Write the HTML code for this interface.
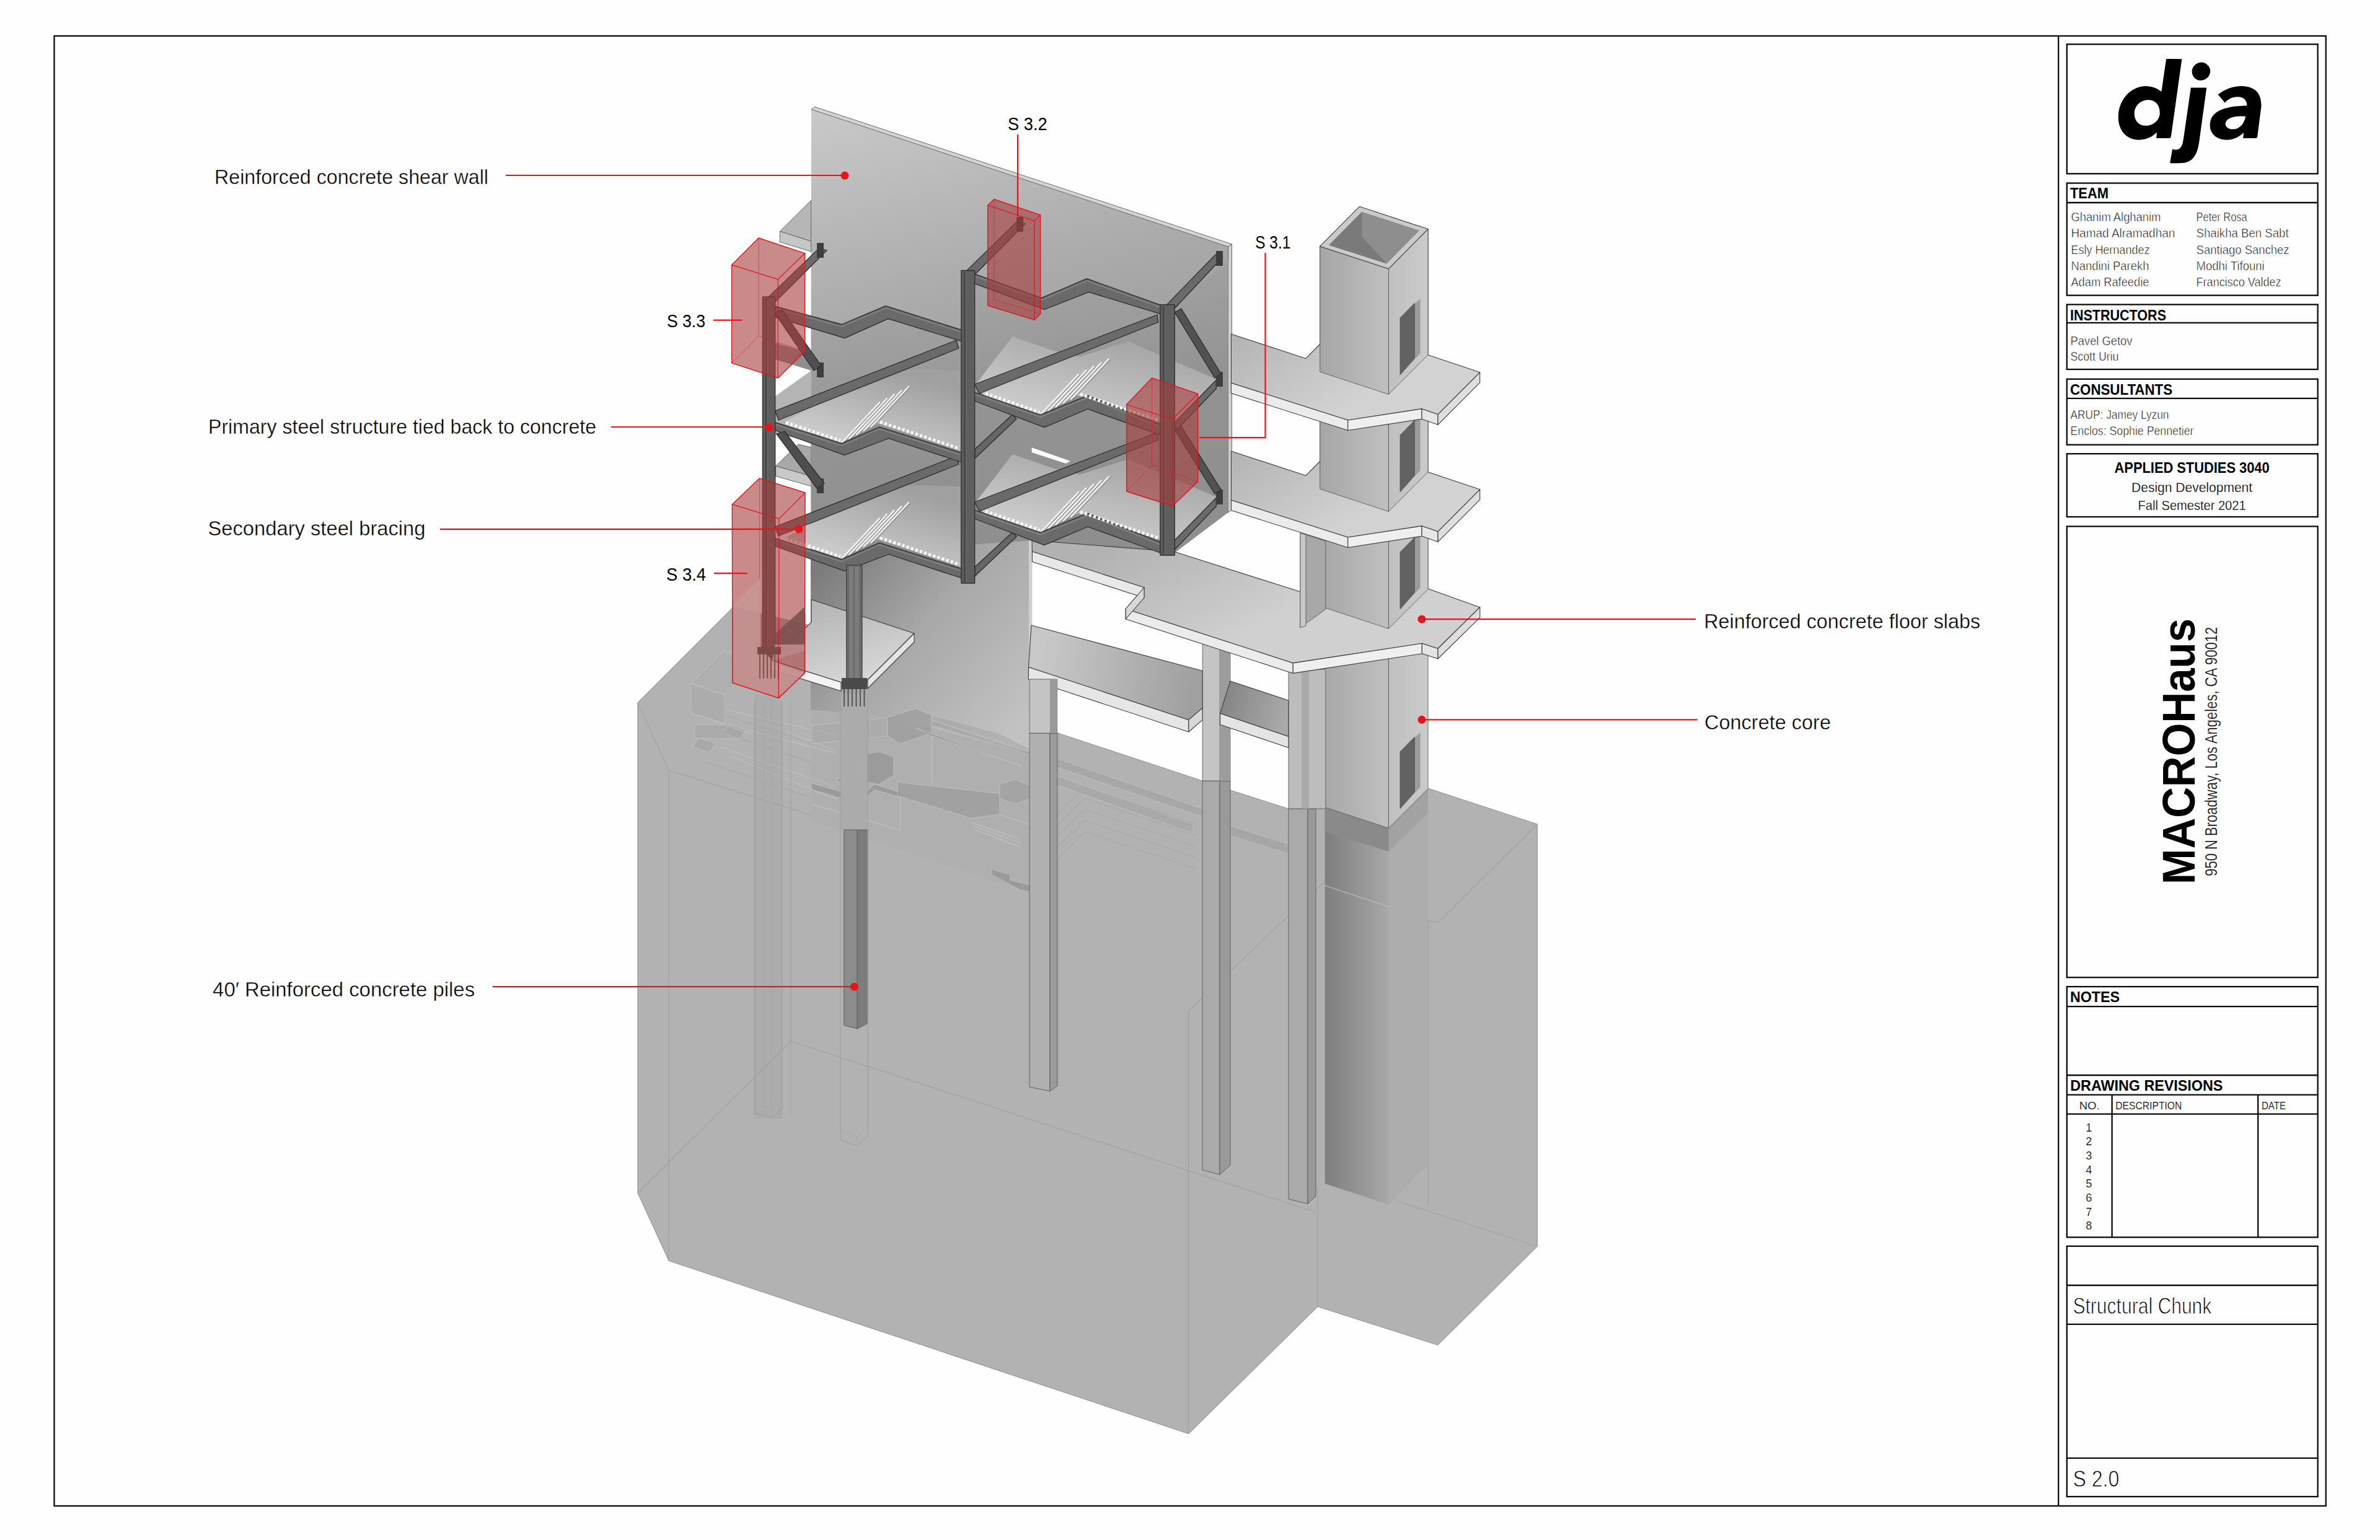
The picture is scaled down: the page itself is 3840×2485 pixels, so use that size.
<!DOCTYPE html>
<html><head><meta charset="utf-8"><style>
html,body{margin:0;padding:0;background:#fff;}
body{width:3840px;height:2485px;overflow:hidden;}
svg{display:block;}
text{font-family:"Liberation Sans",sans-serif;}
</style></head><body>
<svg width="3840" height="2485" viewBox="0 0 3840 2485">
<rect width="3840" height="2485" fill="#fefefe"/>
<defs>
<linearGradient id="gWall" gradientUnits="userSpaceOnUse" x1="1309" y1="176" x2="1500" y2="900">
 <stop offset="0" stop-color="#c9c9c9"/><stop offset="0.45" stop-color="#ababab"/><stop offset="1" stop-color="#8e8e8e"/>
</linearGradient>
<linearGradient id="gWallLow" gradientUnits="userSpaceOnUse" x1="1330" y1="910" x2="1640" y2="1180">
 <stop offset="0" stop-color="#7c7c7c"/><stop offset="0.45" stop-color="#a8a8a8"/><stop offset="1" stop-color="#c2c2c2"/>
</linearGradient>
<linearGradient id="gSlabTop" gradientUnits="userSpaceOnUse" x1="2000" y1="540" x2="2100" y2="700">
 <stop offset="0" stop-color="#b4b4b4"/><stop offset="1" stop-color="#d2d2d2"/>
</linearGradient>
<linearGradient id="gSlabTop2" gradientUnits="userSpaceOnUse" x1="2000" y1="729" x2="2100" y2="889">
 <stop offset="0" stop-color="#b4b4b4"/><stop offset="1" stop-color="#d2d2d2"/>
</linearGradient>
<linearGradient id="gSlabTop3" gradientUnits="userSpaceOnUse" x1="1800" y1="880" x2="1900" y2="1080">
 <stop offset="0" stop-color="#b2b2b2"/><stop offset="1" stop-color="#d0d0d0"/>
</linearGradient>
<linearGradient id="gSlab4" gradientUnits="userSpaceOnUse" x1="1680" y1="1050" x2="1930" y2="1080">
 <stop offset="0" stop-color="#c8c8c8"/><stop offset="1" stop-color="#a0a0a0"/>
</linearGradient>
<linearGradient id="gCoreL" x1="0" y1="0" x2="1" y2="0">
 <stop offset="0" stop-color="#a6a6a6"/><stop offset="1" stop-color="#c0c0c0"/>
</linearGradient>
<linearGradient id="gCoreR" x1="0" y1="0" x2="1" y2="0">
 <stop offset="0" stop-color="#c0c0c0"/><stop offset="1" stop-color="#cacaca"/>
</linearGradient>
<linearGradient id="gCoreIn" x1="0" y1="0" x2="1" y2="0">
 <stop offset="0" stop-color="#7e7e7e"/><stop offset="1" stop-color="#a8a8a8"/>
</linearGradient>
<linearGradient id="gSlabS34" gradientUnits="userSpaceOnUse" x1="1330" y1="975" x2="1370" y2="1100">
 <stop offset="0" stop-color="#b6b6b6"/><stop offset="1" stop-color="#d6d6d6"/>
</linearGradient>
<linearGradient id="gSlab5" gradientUnits="userSpaceOnUse" x1="1975" y1="1120" x2="2079" y2="1150">
 <stop offset="0" stop-color="#858585"/><stop offset="1" stop-color="#aaaaaa"/>
</linearGradient>
<linearGradient id="gFrameBg" gradientUnits="userSpaceOnUse" x1="1400" y1="450" x2="1500" y2="950">
 <stop offset="0" stop-color="#a8a8a8"/><stop offset="0.5" stop-color="#939393"/><stop offset="1" stop-color="#8e8e8e"/>
</linearGradient>
<linearGradient id="gPlateL" x1="0" y1="1" x2="0.6" y2="0">
 <stop offset="0" stop-color="#dadada"/><stop offset="1" stop-color="#a0a0a0"/>
</linearGradient>
<linearGradient id="gPlateR" x1="0" y1="1" x2="0.6" y2="0">
 <stop offset="0" stop-color="#d8d8d8"/><stop offset="1" stop-color="#a4a4a4"/>
</linearGradient>
</defs>
<polygon points="1029.0,1134.0 1183.0,980.0 1310.0,1010.0 1662.0,1128.0 1705.7,1182.6 1940.2,1260.2 1985.0,1275.2 2079.0,1305.0 2305.0,1272.3 2480.3,1330.0 2480.3,2011.0 2319.7,2170.3 2126.0,2108.4 1917.6,2313.4 1079.3,2034.5 1029.0,1925.0" fill="#b2b2b2" stroke="#9c9c9c" stroke-width="1.3"/>
<line x1="1079.3" y1="1243" x2="1079.3" y2="2034.5" stroke="#a2a2a2" stroke-width="1.3" />
<line x1="1029" y1="1925" x2="1275.6" y2="1680.2" stroke="#a2a2a2" stroke-width="1.3" />
<line x1="1275.6" y1="1287" x2="1275.6" y2="1680.2" stroke="#a2a2a2" stroke-width="1.3" />
<line x1="1275.6" y1="1680.2" x2="2126" y2="1957" stroke="#a2a2a2" stroke-width="1.3" />
<line x1="1917.6" y1="1631" x2="1917.6" y2="2313.4" stroke="#a2a2a2" stroke-width="1.3" />
<line x1="2126" y1="1917" x2="2126" y2="2108.4" stroke="#a2a2a2" stroke-width="1.3" />
<line x1="2250" y1="1937" x2="2480.3" y2="2011" stroke="#a2a2a2" stroke-width="1.3" />
<line x1="1029" y1="1134" x2="1079.3" y2="1243" stroke="#a2a2a2" stroke-width="1.3" />
<line x1="1079.3" y1="1243" x2="1308" y2="1315" stroke="#a2a2a2" stroke-width="1.3" />
<line x1="1917.6" y1="1631" x2="2140" y2="1420" stroke="#a2a2a2" stroke-width="1.3" />
<line x1="2304.4" y1="1485" x2="2304.4" y2="1943" stroke="#a2a2a2" stroke-width="1.3" />
<line x1="2320.8" y1="1488.3" x2="2480.3" y2="1330" stroke="#a2a2a2" stroke-width="1.3" />
<line x1="2304.4" y1="1485.7" x2="2320.8" y2="1488.3" stroke="#a2a2a2" stroke-width="1.3" />
<polygon points="1309.0,176.5 1981.5,398.0 1981.5,827.0 1894.0,893.0 1665.0,872.0 1660.0,1215.0 1308.0,1160.0" fill="url(#gWall)" />
<polygon points="1309.0,176.5 1315.0,172.5 1987.5,394.0 1981.5,398.0" fill="#d4d4d4" stroke="#5a5a5a" stroke-width="0.9" stroke-linejoin="round"/>
<polygon points="1981.5,398.0 1987.5,394.0 1987.5,823.0 1981.5,827.0" fill="#cfcfcf" stroke="#5a5a5a" stroke-width="0.9" stroke-linejoin="round"/>
<polygon points="1308.0,880.0 1552.0,880.0 1665.0,872.0 1665.0,1215.0 1308.0,1160.0" fill="url(#gWallLow)" />
<polygon points="1660.0,872.0 1665.4,872.0 1665.4,1215.0 1660.0,1215.0" fill="#d0d0d0" />
<polygon points="1308.0,1145.0 1431.0,1156.0 1660.0,1215.0 1660.0,1440.0 1308.0,1324.0" fill="#afafaf" />
<polygon points="1114.9,1102.6 1169.5,1121.1 1169.5,1167.8 1114.9,1150.3" fill="#a6a6a6" fill-opacity="0.5" stroke="#c4c4c4" stroke-width="1" stroke-opacity="0.8"/>
<polygon points="1114.9,1102.6 1167.5,1050.0 1220.1,1068.5 1169.5,1121.1" fill="#aaaaaa" fill-opacity="0.35" stroke="#c4c4c4" stroke-width="1" stroke-opacity="0.8"/>
<polygon points="1120.8,1169.8 1177.2,1168.8 1204.5,1177.6 1192.8,1192.2 1120.8,1191.2" fill="#a2a2a2" fill-opacity="0.5" stroke="#c4c4c4" stroke-width="1" stroke-opacity="0.8"/>
<polygon points="1116.9,1204.9 1128.6,1191.2 1155.8,1200.0 1144.1,1214.6" fill="#a0a0a0" fill-opacity="0.55" stroke="#c4c4c4" stroke-width="1" stroke-opacity="0.8"/>
<polygon points="1164.6,1182.5 1177.2,1168.8 1204.5,1177.6 1192.8,1192.2" fill="#a4a4a4" fill-opacity="0.5" stroke="#c4c4c4" stroke-width="1" stroke-opacity="0.8"/>
<line x1="1163.6" y1="1205.8" x2="1348.7" y2="1270.1" stroke="#c0c0c0" stroke-width="1.1" />
<line x1="1181.1" y1="1221.4" x2="1348.7" y2="1289.6" stroke="#c0c0c0" stroke-width="1.1" />
<line x1="1204.5" y1="1177.6" x2="1348.7" y2="1215.6" stroke="#c0c0c0" stroke-width="1.1" />
<line x1="1229.8" y1="1164.9" x2="1348.7" y2="1211.7" stroke="#c0c0c0" stroke-width="1.1" />
<line x1="1114.9" y1="1150.3" x2="1217.2" y2="1186.3" stroke="#c0c0c0" stroke-width="1.1" />
<line x1="1169.5" y1="1144.5" x2="1348.7" y2="1186.3" stroke="#c0c0c0" stroke-width="1.1" />
<rect x="1217" y="1120" width="44.0" height="685.0" fill="#a0a0a0" fill-opacity="0.3"/>
<polygon points="1431.4,1158.0 1477.8,1143.2 1503.2,1153.8 1503.2,1183.3 1452.5,1200.2 1431.4,1187.6" fill="#959595" fill-opacity="0.55" stroke="#c4c4c4" stroke-width="1" stroke-opacity="0.8"/>
<polygon points="1477.8,1174.9 1648.7,1236.1 1503.2,1187.6" fill="#8e8e8e" fill-opacity="0.6" stroke="#c4c4c4" stroke-width="1" stroke-opacity="0.8"/>
<polygon points="1503.2,1162.2 1661.4,1212.9 1661.4,1217.9 1503.2,1170.7" fill="#9a9a9a" fill-opacity="0.5" stroke="#c4c4c4" stroke-width="1" stroke-opacity="0.8"/>
<polygon points="1393.5,1217.1 1418.8,1212.9 1442.0,1221.3 1442.0,1250.8 1418.8,1265.6 1393.5,1261.4" fill="#8e8e8e" fill-opacity="0.6" stroke="#c4c4c4" stroke-width="1" stroke-opacity="0.8"/>
<polygon points="1349.2,1257.2 1376.6,1250.8 1389.2,1267.7 1359.7,1271.9" fill="#9a9a9a" fill-opacity="0.5" stroke="#c4c4c4" stroke-width="1" stroke-opacity="0.8"/>
<polygon points="1309.1,1263.5 1389.2,1286.7 1410.3,1265.6 1452.5,1278.3 1452.5,1286.7 1410.3,1274.1 1389.2,1297.3 1309.1,1274.1" fill="#8c8c8c" fill-opacity="0.6" stroke="#c4c4c4" stroke-width="1" stroke-opacity="0.8"/>
<polygon points="1448.3,1261.4 1477.8,1265.6 1612.9,1280.4 1612.9,1314.1 1566.5,1320.5 1477.8,1293.0 1448.3,1284.6" fill="#959595" fill-opacity="0.55" stroke="#c4c4c4" stroke-width="1" stroke-opacity="0.8"/>
<polygon points="1612.9,1265.6 1638.2,1257.2 1661.4,1267.7 1661.4,1288.8 1638.2,1297.3 1612.9,1288.8" fill="#9a9a9a" fill-opacity="0.5" stroke="#c4c4c4" stroke-width="1" stroke-opacity="0.8"/>
<polygon points="1600.2,1402.7 1629.7,1411.2 1629.7,1419.6 1661.4,1428.1 1671.9,1440.7 1646.6,1436.5 1600.2,1411.2" fill="#8c8c8c" fill-opacity="0.6" stroke="#c4c4c4" stroke-width="1" stroke-opacity="0.8"/>
<polygon points="1309.1,1170.7 1431.4,1158.0 1431.4,1187.6 1309.1,1200.2" fill="#a4a4a4" fill-opacity="0.4" stroke="#c4c4c4" stroke-width="1" stroke-opacity="0.8"/>
<polygon points="1503.2,1153.8 1612.9,1183.3 1661.4,1208.6 1661.4,1212.9 1503.2,1162.2" fill="#a0a0a0" fill-opacity="0.45" stroke="#c4c4c4" stroke-width="1" stroke-opacity="0.8"/>
<line x1="1566.5" y1="1326.8" x2="1646.6" y2="1354.2" stroke="#c2c2c2" stroke-width="1.1" />
<line x1="1570.7" y1="1333.1" x2="1646.6" y2="1360.5" stroke="#c2c2c2" stroke-width="1.1" />
<line x1="1574.9" y1="1339.5" x2="1646.6" y2="1366.9" stroke="#c2c2c2" stroke-width="1.1" />
<line x1="1309.1" y1="1297.3" x2="1452.5" y2="1339.5" stroke="#c2c2c2" stroke-width="1.1" />
<line x1="1389.2" y1="1297.3" x2="1389.2" y2="1326.8" stroke="#c2c2c2" stroke-width="1.1" />
<line x1="1452.5" y1="1286.7" x2="1452.5" y2="1339.5" stroke="#c2c2c2" stroke-width="1.1" />
<line x1="1503.2" y1="1187.6" x2="1503.2" y2="1263.5" stroke="#c2c2c2" stroke-width="1.1" />
<line x1="1612.9" y1="1314.1" x2="1661.4" y2="1331.0" stroke="#c2c2c2" stroke-width="1.1" />
<line x1="1167" y1="1153" x2="1308" y2="1199" stroke="#a6a6a6" stroke-width="1.1" />
<line x1="1160" y1="1180" x2="1308" y2="1230" stroke="#a6a6a6" stroke-width="1.1" />
<line x1="1140" y1="1230" x2="1308" y2="1287" stroke="#a6a6a6" stroke-width="1.1" />
<line x1="1217" y1="1130" x2="1217" y2="1800" stroke="#a6a6a6" stroke-width="1.1" />
<line x1="1233" y1="1130" x2="1233" y2="1800" stroke="#a6a6a6" stroke-width="1.1" />
<line x1="1245" y1="1130" x2="1245" y2="1805" stroke="#a6a6a6" stroke-width="1.1" />
<line x1="1261" y1="1130" x2="1261" y2="1805" stroke="#a6a6a6" stroke-width="1.1" />
<line x1="1276" y1="1130" x2="1276" y2="1800" stroke="#a6a6a6" stroke-width="1.1" />
<polygon points="1666.0,1210.0 1940.0,1305.0 1940.0,1318.0 1666.0,1225.0" fill="#9a9a9a" fill-opacity="0.45" stroke="#c4c4c4" stroke-width="1" stroke-opacity="0.8"/>
<polygon points="1700.0,1250.0 1925.0,1330.0 1925.0,1345.0 1700.0,1265.0" fill="#9a9a9a" fill-opacity="0.4" stroke="#c4c4c4" stroke-width="1" stroke-opacity="0.8"/>
<polygon points="1945.0,1320.0 2079.0,1362.0 2079.0,1378.0 1945.0,1336.0" fill="#969696" fill-opacity="0.45" stroke="#c4c4c4" stroke-width="1" stroke-opacity="0.8"/>
<line x1="1690" y1="1330" x2="1750" y2="1270" stroke="#a8a8a8" stroke-width="1.1" />
<line x1="1750" y1="1270" x2="1930" y2="1330" stroke="#a8a8a8" stroke-width="1.1" />
<line x1="1690" y1="1348" x2="1750" y2="1288" stroke="#a8a8a8" stroke-width="1.1" />
<line x1="1750" y1="1288" x2="1930" y2="1348" stroke="#a8a8a8" stroke-width="1.1" />
<line x1="1690" y1="1366" x2="1750" y2="1306" stroke="#a8a8a8" stroke-width="1.1" />
<line x1="1750" y1="1306" x2="1930" y2="1366" stroke="#a8a8a8" stroke-width="1.1" />
<line x1="1690" y1="1384" x2="1750" y2="1324" stroke="#a8a8a8" stroke-width="1.1" />
<line x1="1750" y1="1324" x2="1930" y2="1384" stroke="#a8a8a8" stroke-width="1.1" />
<line x1="1690" y1="1402" x2="1750" y2="1342" stroke="#a8a8a8" stroke-width="1.1" />
<line x1="1750" y1="1342" x2="1930" y2="1402" stroke="#a8a8a8" stroke-width="1.1" />
<polygon points="2137.7,1303.0 2240.6,1335.5 2240.6,1943.7 2137.7,1910.0" fill="url(#gCoreIn)" />
<polygon points="2240.6,1335.5 2304.0,1272.0 2304.0,1880.0 2240.6,1943.7" fill="#adadad" />
<polygon points="2137.7,1303.0 2240.6,1335.5 2240.6,1374.0 2137.7,1341.6" fill="#8a8a8a" />
<polygon points="2240.6,1335.5 2304.0,1272.7 2304.0,1312.0 2240.6,1374.0" fill="#a2a2a2" />
<line x1="2137.7" y1="1429" x2="2240.6" y2="1463" stroke="#c0c0c0" stroke-width="1.2" />
<polygon points="2079.0,1305.0 2110.0,1305.0 2110.0,1942.4 2079.0,1935.0" fill="#aaaaaa" stroke="#5a5a5a" stroke-width="0.9" stroke-linejoin="round"/>
<polygon points="2110.0,1305.0 2123.0,1305.0 2123.0,1930.0 2110.0,1942.4" fill="#999999" stroke="#5a5a5a" stroke-width="0.9" stroke-linejoin="round"/>
<polygon points="1940.0,1260.0 1968.0,1260.0 1968.0,1895.3 1940.0,1888.0" fill="#aaaaaa" stroke="#5a5a5a" stroke-width="0.9" stroke-linejoin="round"/>
<polygon points="1968.0,1260.0 1985.0,1260.0 1985.0,1880.0 1968.0,1895.3" fill="#9a9a9a" stroke="#5a5a5a" stroke-width="0.9" stroke-linejoin="round"/>
<polygon points="1661.0,1183.0 1694.0,1183.0 1694.0,1760.8 1661.0,1754.0" fill="#b0b0b0" stroke="#5a5a5a" stroke-width="0.9" stroke-linejoin="round"/>
<polygon points="1694.0,1183.0 1706.0,1183.0 1706.0,1752.0 1694.0,1760.8" fill="#9a9a9a" stroke="#5a5a5a" stroke-width="0.9" stroke-linejoin="round"/>
<rect x="1356.8" y="1120" width="42.6" height="219.0" fill="#ababab" />
<polygon points="1361.7,1339.0 1383.2,1339.0 1383.2,1660.0 1361.7,1654.6" fill="#8c8c8c" stroke="#5a5a5a" stroke-width="0.9" stroke-linejoin="round"/>
<polygon points="1383.2,1339.0 1400.0,1339.0 1400.0,1651.3 1383.2,1660.0" fill="#7c7c7c" stroke="#5a5a5a" stroke-width="0.9" stroke-linejoin="round"/>
<polyline points="1218.5,1130.0 1218.5,1795.8 1245.4,1803.9 1262.0,1789.0 1262.0,1130.0" fill="none" stroke="#a0a0a0" stroke-width="1.2" stroke-linejoin="miter" />
<polyline points="1356.0,1130.0 1356.0,1839.5 1383.2,1849.6 1400.0,1832.8 1400.0,1130.0" fill="none" stroke="#a0a0a0" stroke-width="1.2" stroke-linejoin="miter" />
<polyline points="1218.5,1781.0 1245.4,1789.0 1262.0,1775.0" fill="none" stroke="#a6a6a6" stroke-width="1.0" stroke-linejoin="miter" />
<polyline points="1245.4,1789.0 1245.4,1803.9" fill="none" stroke="#a6a6a6" stroke-width="1.0" stroke-linejoin="miter" />
<polyline points="1356.0,1825.0 1383.2,1834.0 1400.0,1818.0" fill="none" stroke="#a6a6a6" stroke-width="1.0" stroke-linejoin="miter" />
<polyline points="1383.2,1834.0 1383.2,1849.6" fill="none" stroke="#a6a6a6" stroke-width="1.0" stroke-linejoin="miter" />
<polygon points="2129.7,397.4 2240.4,433.8 2240.4,1336.4 2129.7,1300.0" fill="url(#gCoreL)" stroke="#5a5a5a" stroke-width="0.9" stroke-linejoin="round"/>
<polygon points="2240.4,433.8 2304.0,369.6 2304.0,1272.7 2240.4,1336.4" fill="url(#gCoreR)" stroke="#5a5a5a" stroke-width="0.9" stroke-linejoin="round"/>
<polygon points="2259.0,1213.0 2291.6,1181.8 2291.6,1270.0 2259.0,1305.0" fill="#9c9c9c" />
<polygon points="2259.0,1213.0 2282.5,1189.0 2282.5,1278.0 2259.0,1305.0" fill="#626262" stroke="#5a5a5a" stroke-width="0.9" stroke-linejoin="round"/>
<rect x="2079" y="1080" width="59.8" height="225.0" fill="#bdbdbd" stroke="#5a5a5a" stroke-width="0.9" stroke-linejoin="round"/>
<rect x="2100" y="1080" width="12.0" height="225.0" fill="#aaaaaa" />
<rect x="1940.2" y="1030" width="44.8" height="230.0" fill="#c4c4c4" stroke="#5a5a5a" stroke-width="0.9" stroke-linejoin="round"/>
<rect x="1967" y="1030" width="18.0" height="230.0" fill="#9c9c9c" />
<polygon points="1664.0,1009.0 1940.2,1082.5 1940.2,1142.3 1917.8,1161.7 1659.4,1076.5" fill="url(#gSlab4)" stroke="#3c3c3c" stroke-width="1.1" stroke-linejoin="round"/>
<polygon points="1659.4,1076.5 1917.8,1161.7 1917.8,1181.0 1659.4,1096.0" fill="#e6e6e6" stroke="#3c3c3c" stroke-width="1.1" stroke-linejoin="round"/>
<polygon points="1917.8,1161.7 1940.2,1142.3 1940.2,1161.6 1917.8,1181.0" fill="#d8d8d8" stroke="#3c3c3c" stroke-width="1.1" stroke-linejoin="round"/>
<rect x="1661" y="1096" width="44.7" height="87.0" fill="#c4c4c4" stroke="#5a5a5a" stroke-width="0.9" stroke-linejoin="round"/>
<rect x="1694" y="1096" width="11.7" height="87.0" fill="#9a9a9a" />
<polygon points="1985.0,1099.0 2079.0,1130.3 2079.0,1188.5 1968.6,1151.2" fill="url(#gSlab5)" stroke="#3c3c3c" stroke-width="1.1" stroke-linejoin="round"/>
<polygon points="1968.6,1151.2 2079.0,1188.5 2079.0,1206.5 1968.6,1169.2" fill="#e4e4e4" stroke="#3c3c3c" stroke-width="1.1" stroke-linejoin="round"/>
<polygon points="1665.0,872.0 1894.0,890.0 2100.0,955.6 2304.0,950.0 2387.8,979.9 2320.0,1046.5 2294.3,1038.3 2086.2,1069.9 1816.2,982.5 1846.0,948.0 1665.4,889.9" fill="url(#gSlabTop3)" stroke="#3c3c3c" stroke-width="1.1" stroke-linejoin="round"/>
<polygon points="1665.4,889.9 1846.0,948.0 1846.0,964.5 1665.4,906.4" fill="#e8e8e8" stroke="#3c3c3c" stroke-width="1.1" stroke-linejoin="round"/>
<polygon points="1816.2,982.5 2086.2,1069.9 2086.2,1086.4 1816.2,999.0" fill="#ebebeb" stroke="#3c3c3c" stroke-width="1.1" stroke-linejoin="round"/>
<polygon points="2086.2,1069.9 2294.3,1038.3 2294.3,1054.8 2086.2,1086.4" fill="#efefef" stroke="#3c3c3c" stroke-width="1.1" stroke-linejoin="round"/>
<polygon points="2294.3,1038.3 2320.0,1046.5 2320.0,1063.0 2294.3,1054.8" fill="#e4e4e4" stroke="#3c3c3c" stroke-width="1.1" stroke-linejoin="round"/>
<polygon points="2320.0,1046.5 2387.8,979.9 2387.8,996.4 2320.0,1063.0" fill="#dedede" stroke="#3c3c3c" stroke-width="1.1" stroke-linejoin="round"/>
<polygon points="1846.0,948.0 1816.2,982.5 1816.2,999.0 1846.0,964.5" fill="#d8d8d8" stroke="#3c3c3c" stroke-width="1.1" stroke-linejoin="round"/>
<polygon points="2129.7,397.4 2240.4,433.8 2240.4,1014.4 2129.7,978.0" fill="url(#gCoreL)" stroke="#5a5a5a" stroke-width="0.9" stroke-linejoin="round"/>
<polygon points="2240.4,433.8 2304.0,369.6 2304.0,950.7 2240.4,1014.4" fill="url(#gCoreR)" stroke="#5a5a5a" stroke-width="0.9" stroke-linejoin="round"/>
<polygon points="2097.9,860.0 2138.8,873.0 2138.8,983.4 2097.9,1012.6" fill="#a8a8a8" stroke="#5a5a5a" stroke-width="0.9" stroke-linejoin="round"/>
<polygon points="2097.9,860.0 2107.0,863.0 2107.0,1010.0 2097.9,1012.6" fill="#c8c8c8" stroke="#5a5a5a" stroke-width="0.9" stroke-linejoin="round"/>
<polygon points="2259.0,891.0 2291.6,859.8 2291.6,948.0 2259.0,983.0" fill="#9c9c9c" />
<polygon points="2259.0,891.0 2282.5,867.0 2282.5,956.0 2259.0,983.0" fill="#626262" stroke="#5a5a5a" stroke-width="0.9" stroke-linejoin="round"/>
<polygon points="1986.4,728.0 2107.0,767.4 2129.0,745.0 2304.0,761.7 2387.7,789.8 2320.0,857.8 2294.0,848.7 2174.7,867.0 1986.4,807.0" fill="url(#gSlabTop2)" stroke="#3c3c3c" stroke-width="1.1" stroke-linejoin="round"/>
<polygon points="1986.4,807.0 2174.7,867.0 2174.7,883.5 1986.4,823.5" fill="#ebebeb" stroke="#3c3c3c" stroke-width="1.1" stroke-linejoin="round"/>
<polygon points="2174.7,867.0 2294.0,848.7 2294.0,865.2 2174.7,883.5" fill="#efefef" stroke="#3c3c3c" stroke-width="1.1" stroke-linejoin="round"/>
<polygon points="2294.0,848.7 2320.0,857.8 2320.0,874.3 2294.0,865.2" fill="#e6e6e6" stroke="#3c3c3c" stroke-width="1.1" stroke-linejoin="round"/>
<polygon points="2320.0,857.8 2387.7,789.8 2387.7,806.3 2320.0,874.3" fill="#dedede" stroke="#3c3c3c" stroke-width="1.1" stroke-linejoin="round"/>
<polygon points="2129.7,397.4 2240.4,433.8 2240.4,825.4 2129.7,789.0" fill="url(#gCoreL)" stroke="#5a5a5a" stroke-width="0.9" stroke-linejoin="round"/>
<polygon points="2240.4,433.8 2304.0,369.6 2304.0,761.7 2240.4,825.4" fill="url(#gCoreR)" stroke="#5a5a5a" stroke-width="0.9" stroke-linejoin="round"/>
<polygon points="2259.0,702.0 2291.6,670.8 2291.6,759.0 2259.0,794.0" fill="#9c9c9c" />
<polygon points="2259.0,702.0 2282.5,678.0 2282.5,767.0 2259.0,794.0" fill="#626262" stroke="#5a5a5a" stroke-width="0.9" stroke-linejoin="round"/>
<polygon points="1986.4,539.0 2107.0,578.4 2129.0,556.0 2304.0,572.7 2387.7,600.8 2320.0,668.8 2294.0,659.7 2174.7,678.0 1986.4,618.0" fill="url(#gSlabTop)" stroke="#3c3c3c" stroke-width="1.1" stroke-linejoin="round"/>
<polygon points="1986.4,618.0 2174.7,678.0 2174.7,694.5 1986.4,634.5" fill="#ebebeb" stroke="#3c3c3c" stroke-width="1.1" stroke-linejoin="round"/>
<polygon points="2174.7,678.0 2294.0,659.7 2294.0,676.2 2174.7,694.5" fill="#efefef" stroke="#3c3c3c" stroke-width="1.1" stroke-linejoin="round"/>
<polygon points="2294.0,659.7 2320.0,668.8 2320.0,685.3 2294.0,676.2" fill="#e6e6e6" stroke="#3c3c3c" stroke-width="1.1" stroke-linejoin="round"/>
<polygon points="2320.0,668.8 2387.7,600.8 2387.7,617.3 2320.0,685.3" fill="#dedede" stroke="#3c3c3c" stroke-width="1.1" stroke-linejoin="round"/>
<polygon points="2129.7,397.4 2240.4,433.8 2240.4,636.4 2129.7,600.0" fill="url(#gCoreL)" stroke="#5a5a5a" stroke-width="0.9" stroke-linejoin="round"/>
<polygon points="2240.4,433.8 2304.0,369.6 2304.0,572.7 2240.4,636.4" fill="url(#gCoreR)" stroke="#5a5a5a" stroke-width="0.9" stroke-linejoin="round"/>
<polygon points="2259.0,513.0 2291.6,481.8 2291.6,570.0 2259.0,605.0" fill="#9c9c9c" />
<polygon points="2259.0,513.0 2282.5,489.0 2282.5,578.0 2259.0,605.0" fill="#626262" stroke="#5a5a5a" stroke-width="0.9" stroke-linejoin="round"/>
<polygon points="2129.7,397.4 2193.6,333.2 2304.0,369.6 2240.4,433.8" fill="#cacaca" stroke="#3c3c3c" stroke-width="1.1" stroke-linejoin="round"/>
<polygon points="2144.3,395.6 2197.3,342.0 2289.7,372.0 2237.0,425.2" fill="#707070" />
<polygon points="2197.3,342.0 2289.7,372.0 2237.0,425.2 2197.3,382.0" fill="#8e8e8e" />
<polygon points="2144.3,395.6 2197.3,342.0 2197.3,382.0 2237.0,425.2" fill="#7a7a7a" />
<polygon points="1258.3,373.3 1308.6,323.4 1308.6,389.2" fill="#b6b6b6" stroke="#5a5a5a" stroke-width="0.9" stroke-linejoin="round"/>
<polygon points="1258.3,373.3 1308.6,389.2 1308.6,406.0 1258.3,390.4" fill="#c6c6c6" stroke="#5a5a5a" stroke-width="0.9" stroke-linejoin="round"/>
<polygon points="1251.6,752.0 1288.0,716.9 1309.0,722.0 1309.0,768.3" fill="#a8a8a8" stroke="#5a5a5a" stroke-width="0.9" stroke-linejoin="round"/>
<polygon points="1251.6,752.0 1309.0,768.3 1309.0,784.7 1251.6,768.3" fill="#c8c8c8" stroke="#5a5a5a" stroke-width="0.9" stroke-linejoin="round"/>
<polygon points="1308.8,520.0 1363.0,545.6 1433.0,514.4 1552.0,550.8 1552.0,934.0 1433.9,895.7 1362.6,922.6 1308.8,902.0" fill="url(#gFrameBg)" />
<polygon points="1251.3,553.4 1308.8,570.0 1308.8,598.0 1251.3,580.0" fill="#8e8e8e" />
<polygon points="1250.0,640.0 1308.8,598.0 1308.8,712.0 1250.0,700.0" fill="#b4b4b4" />
<polygon points="1572.0,457.0 1685.0,499.5 1756.6,471.4 1875.0,507.3 1895.0,491.7 1981.5,420.0 1981.5,825.0 1895.0,887.0 1872.0,890.9 1755.0,850.6 1685.0,879.2 1572.0,838.0" fill="url(#gFrameBg)" />
<polygon points="1664.7,722.3 1727.0,744.0 1720.0,748.0 1664.7,730.0" fill="#fdfdfd" />
<polygon points="1266.8,684.2 1357.9,714.5 1416.4,683.0 1549.6,727.4 1549.6,598.0 1496.0,596.3 1418.0,596.3 1268.0,680.0" fill="url(#gPlateL)" />
<polyline points="1357.9,714.5 1419.9,648.5" fill="none" stroke="#f2f2f2" stroke-width="2.4" stroke-linejoin="miter" />
<polyline points="1360.4,715.5 1422.4,649.5" fill="none" stroke="#6a6a6a" stroke-width="0.9" stroke-linejoin="miter" />
<polyline points="1369.6,708.2 1431.6,642.2" fill="none" stroke="#f2f2f2" stroke-width="2.4" stroke-linejoin="miter" />
<polyline points="1372.1,709.2 1434.1,643.2" fill="none" stroke="#6a6a6a" stroke-width="0.9" stroke-linejoin="miter" />
<polyline points="1381.3,701.9 1443.3,635.9" fill="none" stroke="#f2f2f2" stroke-width="2.4" stroke-linejoin="miter" />
<polyline points="1383.8,702.9 1445.8,636.9" fill="none" stroke="#6a6a6a" stroke-width="0.9" stroke-linejoin="miter" />
<polyline points="1393.0,695.6 1455.0,629.6" fill="none" stroke="#f2f2f2" stroke-width="2.4" stroke-linejoin="miter" />
<polyline points="1395.5,696.6 1457.5,630.6" fill="none" stroke="#6a6a6a" stroke-width="0.9" stroke-linejoin="miter" />
<polyline points="1404.7,689.3 1466.7,623.3" fill="none" stroke="#f2f2f2" stroke-width="2.4" stroke-linejoin="miter" />
<polyline points="1407.2,690.3 1469.2,624.3" fill="none" stroke="#6a6a6a" stroke-width="0.9" stroke-linejoin="miter" />
<polygon points="1266.8,871.2 1357.9,901.5 1416.4,870.0 1549.6,914.4 1549.6,785.0 1496.0,783.3 1418.0,783.3 1268.0,867.0" fill="url(#gPlateL)" />
<polyline points="1357.9,901.5 1419.9,835.5" fill="none" stroke="#f2f2f2" stroke-width="2.4" stroke-linejoin="miter" />
<polyline points="1360.4,902.5 1422.4,836.5" fill="none" stroke="#6a6a6a" stroke-width="0.9" stroke-linejoin="miter" />
<polyline points="1369.6,895.2 1431.6,829.2" fill="none" stroke="#f2f2f2" stroke-width="2.4" stroke-linejoin="miter" />
<polyline points="1372.1,896.2 1434.1,830.2" fill="none" stroke="#6a6a6a" stroke-width="0.9" stroke-linejoin="miter" />
<polyline points="1381.3,888.9 1443.3,822.9" fill="none" stroke="#f2f2f2" stroke-width="2.4" stroke-linejoin="miter" />
<polyline points="1383.8,889.9 1445.8,823.9" fill="none" stroke="#6a6a6a" stroke-width="0.9" stroke-linejoin="miter" />
<polyline points="1393.0,882.6 1455.0,816.6" fill="none" stroke="#f2f2f2" stroke-width="2.4" stroke-linejoin="miter" />
<polyline points="1395.5,883.6 1457.5,817.6" fill="none" stroke="#6a6a6a" stroke-width="0.9" stroke-linejoin="miter" />
<polyline points="1404.7,876.3 1466.7,810.3" fill="none" stroke="#f2f2f2" stroke-width="2.4" stroke-linejoin="miter" />
<polyline points="1407.2,877.3 1469.2,811.3" fill="none" stroke="#6a6a6a" stroke-width="0.9" stroke-linejoin="miter" />
<polygon points="1589.9,639.7 1678.7,669.3 1739.5,638.2 1870.3,680.2 1895.3,681.8 1962.3,613.2 1962.3,611.7 1820.5,550.9 1742.6,575.8 1702.0,566.5 1633.5,543.1 1572.7,622.6" fill="url(#gPlateR)" />
<polyline points="1678.7,669.3 1740.7,603.3" fill="none" stroke="#f2f2f2" stroke-width="2.4" stroke-linejoin="miter" />
<polyline points="1681.2,670.3 1743.2,604.3" fill="none" stroke="#6a6a6a" stroke-width="0.9" stroke-linejoin="miter" />
<polyline points="1690.9,663.1 1752.9,597.1" fill="none" stroke="#f2f2f2" stroke-width="2.4" stroke-linejoin="miter" />
<polyline points="1693.4,664.1 1755.4,598.1" fill="none" stroke="#6a6a6a" stroke-width="0.9" stroke-linejoin="miter" />
<polyline points="1703.1,656.9 1765.1,590.9" fill="none" stroke="#f2f2f2" stroke-width="2.4" stroke-linejoin="miter" />
<polyline points="1705.6,657.9 1767.6,591.9" fill="none" stroke="#6a6a6a" stroke-width="0.9" stroke-linejoin="miter" />
<polyline points="1715.3,650.7 1777.3,584.7" fill="none" stroke="#f2f2f2" stroke-width="2.4" stroke-linejoin="miter" />
<polyline points="1717.8,651.7 1779.8,585.7" fill="none" stroke="#6a6a6a" stroke-width="0.9" stroke-linejoin="miter" />
<polyline points="1727.5,644.5 1789.5,578.5" fill="none" stroke="#f2f2f2" stroke-width="2.4" stroke-linejoin="miter" />
<polyline points="1730.0,645.5 1792.0,579.5" fill="none" stroke="#6a6a6a" stroke-width="0.9" stroke-linejoin="miter" />
<polygon points="1589.9,829.7 1678.7,859.3 1739.5,828.2 1870.3,870.2 1895.3,871.8 1962.3,803.2 1962.3,801.7 1820.5,740.9 1742.6,765.8 1702.0,756.5 1633.5,733.1 1572.7,812.6" fill="url(#gPlateR)" />
<polyline points="1678.7,859.3 1740.7,793.3" fill="none" stroke="#f2f2f2" stroke-width="2.4" stroke-linejoin="miter" />
<polyline points="1681.2,860.3 1743.2,794.3" fill="none" stroke="#6a6a6a" stroke-width="0.9" stroke-linejoin="miter" />
<polyline points="1690.9,853.1 1752.9,787.1" fill="none" stroke="#f2f2f2" stroke-width="2.4" stroke-linejoin="miter" />
<polyline points="1693.4,854.1 1755.4,788.1" fill="none" stroke="#6a6a6a" stroke-width="0.9" stroke-linejoin="miter" />
<polyline points="1703.1,846.9 1765.1,780.9" fill="none" stroke="#f2f2f2" stroke-width="2.4" stroke-linejoin="miter" />
<polyline points="1705.6,847.9 1767.6,781.9" fill="none" stroke="#6a6a6a" stroke-width="0.9" stroke-linejoin="miter" />
<polyline points="1715.3,840.7 1777.3,774.7" fill="none" stroke="#f2f2f2" stroke-width="2.4" stroke-linejoin="miter" />
<polyline points="1717.8,841.7 1779.8,775.7" fill="none" stroke="#6a6a6a" stroke-width="0.9" stroke-linejoin="miter" />
<polyline points="1727.5,834.5 1789.5,768.5" fill="none" stroke="#f2f2f2" stroke-width="2.4" stroke-linejoin="miter" />
<polyline points="1730.0,835.5 1792.0,769.5" fill="none" stroke="#6a6a6a" stroke-width="0.9" stroke-linejoin="miter" />
<polygon points="1572.7,725.0 1633.5,669.0 1640.0,676.0 1572.7,740.0" fill="#666666" stroke="#2c2c2c" stroke-width="1.3" stroke-linejoin="round"/>
<polygon points="1572.7,915.0 1633.5,859.0 1640.0,866.0 1572.7,930.0" fill="#666666" stroke="#2c2c2c" stroke-width="1.3" stroke-linejoin="round"/>
<polygon points="1250.7,663.0 1543.0,549.0 1546.8,562.0 1256.0,678.0" fill="#6a6a6a" stroke="#2c2c2c" stroke-width="1.3" stroke-linejoin="round"/>
<polygon points="1250.7,850.0 1543.0,736.0 1546.8,749.0 1256.0,865.0" fill="#6a6a6a" stroke="#2c2c2c" stroke-width="1.3" stroke-linejoin="round"/>
<polygon points="1572.7,620.0 1867.2,508.0 1868.8,520.0 1580.0,635.0" fill="#6a6a6a" stroke="#2c2c2c" stroke-width="1.3" stroke-linejoin="round"/>
<polygon points="1572.7,810.0 1867.2,698.0 1868.8,710.0 1580.0,825.0" fill="#6a6a6a" stroke="#2c2c2c" stroke-width="1.3" stroke-linejoin="round"/>
<polygon points="1250.0,494.0 1358.0,523.5 1429.0,493.6 1552.0,532.6 1552.0,550.8 1433.0,514.4 1363.0,545.6 1250.0,511.8" fill="#6a6a6a" stroke="#2c2c2c" stroke-width="1.3" stroke-linejoin="round"/>
<polyline points="1250.0,497.5 1358.0,527.0 1429.0,497.1 1552.0,536.1" fill="none" stroke="#858585" stroke-width="1.6" stroke-linejoin="miter" />
<polygon points="1248.0,680.6 1357.9,715.7 1418.7,688.8 1552.0,730.9 1552.0,746.0 1433.9,707.5 1362.6,734.4 1248.0,693.5" fill="#6a6a6a" stroke="#2c2c2c" stroke-width="1.3" stroke-linejoin="round"/>
<polyline points="1248.0,684.1 1357.9,719.2 1418.7,692.3 1552.0,734.4" fill="none" stroke="#858585" stroke-width="1.6" stroke-linejoin="miter" />
<polygon points="1248.0,867.6 1357.9,902.7 1418.7,875.8 1552.0,917.9 1552.0,933.0 1433.9,894.5 1362.6,921.4 1248.0,880.5" fill="#6a6a6a" stroke="#2c2c2c" stroke-width="1.3" stroke-linejoin="round"/>
<polyline points="1248.0,871.1 1357.9,906.2 1418.7,879.3 1552.0,921.4" fill="none" stroke="#858585" stroke-width="1.6" stroke-linejoin="miter" />
<polygon points="1572.0,441.8 1680.2,480.8 1753.5,449.6 1875.0,493.2 1875.0,507.3 1756.6,471.4 1685.0,499.5 1572.0,457.4" fill="#6a6a6a" stroke="#2c2c2c" stroke-width="1.3" stroke-linejoin="round"/>
<polyline points="1572.0,445.3 1680.2,484.3 1753.5,453.1 1875.0,496.7" fill="none" stroke="#858585" stroke-width="1.6" stroke-linejoin="miter" />
<polygon points="1569.6,632.0 1678.7,669.3 1755.0,638.2 1872.0,684.9 1872.0,702.0 1755.0,660.0 1685.0,689.6 1569.6,646.0" fill="#6a6a6a" stroke="#2c2c2c" stroke-width="1.3" stroke-linejoin="round"/>
<polyline points="1569.6,635.5 1678.7,672.8 1755.0,641.7 1872.0,688.4" fill="none" stroke="#858585" stroke-width="1.6" stroke-linejoin="miter" />
<polygon points="1569.6,822.0 1678.7,859.3 1755.0,828.2 1872.0,874.9 1872.0,892.0 1755.0,850.0 1685.0,879.6 1569.6,836.0" fill="#6a6a6a" stroke="#2c2c2c" stroke-width="1.3" stroke-linejoin="round"/>
<polyline points="1569.6,825.5 1678.7,862.8 1755.0,831.7 1872.0,878.4" fill="none" stroke="#858585" stroke-width="1.6" stroke-linejoin="miter" />
<polyline points="1268.0,682.0 1356.0,711.0" fill="none" stroke="#fbfbfb" stroke-width="5" stroke-linejoin="miter" stroke-dasharray="4,3.5"/>
<polyline points="1420.0,681.0 1548.0,724.0" fill="none" stroke="#fbfbfb" stroke-width="5" stroke-linejoin="miter" stroke-dasharray="4,3.5"/>
<polyline points="1268.0,869.0 1356.0,898.0" fill="none" stroke="#fbfbfb" stroke-width="5" stroke-linejoin="miter" stroke-dasharray="4,3.5"/>
<polyline points="1420.0,868.0 1548.0,911.0" fill="none" stroke="#fbfbfb" stroke-width="5" stroke-linejoin="miter" stroke-dasharray="4,3.5"/>
<polyline points="1590.0,635.0 1677.0,665.0" fill="none" stroke="#fbfbfb" stroke-width="5" stroke-linejoin="miter" stroke-dasharray="4,3.5"/>
<polyline points="1743.0,636.0 1868.0,678.0" fill="none" stroke="#fbfbfb" stroke-width="5" stroke-linejoin="miter" stroke-dasharray="4,3.5"/>
<polyline points="1590.0,825.0 1677.0,855.0" fill="none" stroke="#fbfbfb" stroke-width="5" stroke-linejoin="miter" stroke-dasharray="4,3.5"/>
<polyline points="1743.0,826.0 1868.0,868.0" fill="none" stroke="#fbfbfb" stroke-width="5" stroke-linejoin="miter" stroke-dasharray="4,3.5"/>
<polygon points="1895.3,681.8 1962.3,613.2 1962.3,627.0 1895.3,697.0" fill="#6a6a6a" stroke="#2c2c2c" stroke-width="1.3" stroke-linejoin="round"/>
<polygon points="1895.3,871.8 1962.3,803.2 1962.3,817.0 1895.3,887.0" fill="#6a6a6a" stroke="#2c2c2c" stroke-width="1.3" stroke-linejoin="round"/>
<polygon points="1238.3,480.6 1322.0,400.1 1334.0,404.0 1250.0,488.0" fill="#6a6a6a" stroke="#2c2c2c" stroke-width="1.3" stroke-linejoin="round"/>
<polygon points="1557.9,438.4 1642.0,356.5 1654.0,361.0 1570.0,446.0" fill="#6a6a6a" stroke="#2c2c2c" stroke-width="1.3" stroke-linejoin="round"/>
<polygon points="1881.3,492.9 1961.0,411.0 1973.0,415.0 1893.0,500.0" fill="#6a6a6a" stroke="#2c2c2c" stroke-width="1.3" stroke-linejoin="round"/>
<rect x="1318" y="392" width="11.0" height="24.0" fill="#3e3e3e" />
<rect x="1640" y="350" width="11.0" height="24.0" fill="#3e3e3e" />
<rect x="1962" y="405" width="11.0" height="24.0" fill="#3e3e3e" />
<rect x="1962" y="600" width="11.0" height="24.0" fill="#3e3e3e" />
<rect x="1962" y="790" width="11.0" height="24.0" fill="#3e3e3e" />
<rect x="1318" y="585" width="11.0" height="24.0" fill="#3e3e3e" />
<rect x="1318" y="772" width="11.0" height="24.0" fill="#3e3e3e" />
<polygon points="1250.0,505.0 1262.0,500.0 1325.0,590.0 1313.0,598.0" fill="#505050" stroke="#2c2c2c" stroke-width="1.3" stroke-linejoin="round"/>
<polygon points="1252.7,700.0 1266.0,696.0 1330.0,780.0 1318.0,788.0" fill="#4e4e4e" stroke="#2c2c2c" stroke-width="1.3" stroke-linejoin="round"/>
<polygon points="1895.3,504.0 1906.0,498.0 1970.0,603.0 1960.0,610.0" fill="#525252" stroke="#2c2c2c" stroke-width="1.3" stroke-linejoin="round"/>
<polygon points="1895.3,694.0 1906.0,688.0 1970.0,790.0 1960.0,797.0" fill="#525252" stroke="#2c2c2c" stroke-width="1.3" stroke-linejoin="round"/>
<rect x="1230.4" y="479" width="20.3" height="611.0" fill="#5e5e5e" stroke="#2c2c2c" stroke-width="1.3" stroke-linejoin="round"/>
<rect x="1234.4" y="482" width="4.0" height="606.0" fill="#4a4a4a" />
<line x1="1238.4" y1="482" x2="1238.4" y2="1088" stroke="#777" stroke-width="1" />
<rect x="1550.9" y="436.5" width="21.8" height="504.5" fill="#5e5e5e" stroke="#2c2c2c" stroke-width="1.3" stroke-linejoin="round"/>
<rect x="1554.9" y="439.5" width="4.0" height="499.5" fill="#4a4a4a" />
<line x1="1558.9" y1="439.5" x2="1558.9" y2="939" stroke="#777" stroke-width="1" />
<rect x="1871.9" y="491.7" width="23.4" height="404.3" fill="#5e5e5e" stroke="#2c2c2c" stroke-width="1.3" stroke-linejoin="round"/>
<rect x="1875.9" y="494.7" width="4.0" height="399.3" fill="#4a4a4a" />
<line x1="1879.9" y1="494.7" x2="1879.9" y2="894" stroke="#777" stroke-width="1" />
<polygon points="1246.0,1066.0 1309.0,1004.0 1309.0,967.5 1475.0,1022.0 1400.0,1097.0 1357.0,1101.0" fill="url(#gSlabS34)" stroke="#3c3c3c" stroke-width="1.1" stroke-linejoin="round"/>
<polygon points="1246.0,1066.0 1357.0,1101.0 1357.0,1115.0 1246.0,1081.0" fill="#f2f2f2" stroke="#3c3c3c" stroke-width="1.1" stroke-linejoin="round"/>
<polygon points="1400.0,1097.0 1475.0,1022.0 1475.0,1036.0 1400.0,1111.0" fill="#e4e4e4" stroke="#3c3c3c" stroke-width="1.1" stroke-linejoin="round"/>
<rect x="1365.7" y="912" width="25.3" height="186.0" fill="#6a6a6a" stroke="#3a3a3a" stroke-width="1.1"/>
<rect x="1370" y="914" width="16.0" height="182.0" fill="#7c7c7c" />
<line x1="1378" y1="914" x2="1378" y2="1096" stroke="#5c5c5c" stroke-width="1.5" />
<rect x="1358" y="1094" width="41.0" height="18.0" fill="#4a4a4a" />
<line x1="1362.0" y1="1112" x2="1362.0" y2="1140" stroke="#555" stroke-width="2" />
<line x1="1368.5" y1="1112" x2="1368.5" y2="1140" stroke="#555" stroke-width="2" />
<line x1="1375.0" y1="1112" x2="1375.0" y2="1140" stroke="#555" stroke-width="2" />
<line x1="1381.5" y1="1112" x2="1381.5" y2="1140" stroke="#555" stroke-width="2" />
<line x1="1388.0" y1="1112" x2="1388.0" y2="1140" stroke="#555" stroke-width="2" />
<line x1="1394.5" y1="1112" x2="1394.5" y2="1140" stroke="#555" stroke-width="2" />
<polygon points="1224.0,384.0 1298.6,408.7 1298.6,566.9 1255.2,610.0 1180.6,585.8 1180.6,427.4" fill="#a53c3c" fill-opacity="0.6"/>
<polygon points="1224.0,384.0 1298.6,408.7 1298.6,566.9 1255.2,610.0 1180.6,585.8 1180.6,427.4" stroke="#e3141c" stroke-width="1.4" fill="none" stroke-linejoin="round"/>
<polyline points="1180.6,427.4 1255.2,450.8 1298.6,408.7" fill="none" stroke="#e3141c" stroke-width="1.2" stroke-linejoin="miter" />
<polyline points="1255.2,450.8 1255.2,610.0" fill="none" stroke="#e3141c" stroke-width="1.2" stroke-linejoin="miter" />
<polyline points="1180.6,585.8 1224.0,542.4 1298.6,566.9" fill="none" stroke="#e3141c" stroke-width="0.9" stroke-linejoin="miter" stroke-opacity="0.6"/>
<polyline points="1224.0,384.0 1224.0,542.4" fill="none" stroke="#e3141c" stroke-width="0.9" stroke-linejoin="miter" stroke-opacity="0.6"/>
<polygon points="1225.4,771.8 1299.0,795.0 1298.5,1085.7 1256.3,1126.3 1182.0,1101.8 1181.3,813.9" fill="#a53c3c" fill-opacity="0.6"/>
<polygon points="1225.4,771.8 1299.0,795.0 1298.5,1085.7 1256.3,1126.3 1182.0,1101.8 1181.3,813.9" stroke="#e3141c" stroke-width="1.4" fill="none" stroke-linejoin="round"/>
<polyline points="1181.3,813.9 1257.0,837.0 1299.0,795.0" fill="none" stroke="#e3141c" stroke-width="1.2" stroke-linejoin="miter" />
<polyline points="1257.0,837.0 1256.3,1126.3" fill="none" stroke="#e3141c" stroke-width="1.2" stroke-linejoin="miter" />
<polyline points="1182.0,1101.8 1225.4,1059.7 1298.5,1085.7" fill="none" stroke="#e3141c" stroke-width="0.9" stroke-linejoin="miter" stroke-opacity="0.6"/>
<polyline points="1225.4,771.8 1225.4,1059.7" fill="none" stroke="#e3141c" stroke-width="0.9" stroke-linejoin="miter" stroke-opacity="0.6"/>
<polygon points="1182.0,977.7 1227.0,932.7 1227.0,1044.0 1246.0,1066.0 1298.5,1085.7 1256.3,1126.3 1182.0,1101.8" fill="#c89696" fill-opacity="0.85"/>
<polygon points="1250.5,1023.0 1298.6,979.0 1298.6,1040.0 1250.5,1040.0" fill="#7c5252" fill-opacity="0.9"/>
<polygon points="1250.5,1040.0 1298.6,1040.0 1298.6,1050.0 1246.0,1066.0" fill="#b88a8a" fill-opacity="0.9"/>
<rect x="1222" y="1044" width="38.0" height="12.0" fill="#7a4a4a" />
<line x1="1226" y1="1056" x2="1226" y2="1095" stroke="#7a4a4a" stroke-width="1.8" />
<line x1="1232" y1="1056" x2="1232" y2="1095" stroke="#7a4a4a" stroke-width="1.8" />
<line x1="1238" y1="1056" x2="1238" y2="1095" stroke="#7a4a4a" stroke-width="1.8" />
<line x1="1244" y1="1056" x2="1244" y2="1095" stroke="#7a4a4a" stroke-width="1.8" />
<line x1="1250" y1="1056" x2="1250" y2="1095" stroke="#7a4a4a" stroke-width="1.8" />
<line x1="1256" y1="1056" x2="1256" y2="1095" stroke="#7a4a4a" stroke-width="1.8" />
<polyline points="1182,1101.8 1256.3,1126.3 1298.5,1085.7" fill="none" stroke="#e3141c" stroke-width="1.4"/>
<polyline points="1182,1101.8 1182,977" fill="none" stroke="#e3141c" stroke-width="1.4"/>
<polyline points="1256.3,1126.3 1256.3,1000" fill="none" stroke="#e3141c" stroke-width="1.2"/>
<polyline points="1298.5,1085.7 1298.5,990" fill="none" stroke="#e3141c" stroke-width="1.4"/>
<polygon points="1603.9,321.5 1678.7,346.8 1678.7,506.6 1669.0,516.3 1593.7,493.0 1593.7,331.2" fill="#a53c3c" fill-opacity="0.6"/>
<polygon points="1603.9,321.5 1678.7,346.8 1678.7,506.6 1669.0,516.3 1593.7,493.0 1593.7,331.2" stroke="#e3141c" stroke-width="1.4" fill="none" stroke-linejoin="round"/>
<polyline points="1593.7,331.2 1669.0,356.5 1678.7,346.8" fill="none" stroke="#e3141c" stroke-width="1.2" stroke-linejoin="miter" />
<polyline points="1669.0,356.5 1669.0,516.3" fill="none" stroke="#e3141c" stroke-width="1.2" stroke-linejoin="miter" />
<polyline points="1593.7,493.0 1603.9,483.3 1678.7,506.6" fill="none" stroke="#e3141c" stroke-width="0.9" stroke-linejoin="miter" stroke-opacity="0.6"/>
<polyline points="1603.9,321.5 1603.9,483.3" fill="none" stroke="#e3141c" stroke-width="0.9" stroke-linejoin="miter" stroke-opacity="0.6"/>
<polygon points="1858.6,609.9 1932.7,635.3 1932.7,777.5 1891.7,816.5 1817.7,793.0 1817.7,652.8" fill="#a53c3c" fill-opacity="0.6"/>
<polygon points="1858.6,609.9 1932.7,635.3 1932.7,777.5 1891.7,816.5 1817.7,793.0 1817.7,652.8" stroke="#e3141c" stroke-width="1.4" fill="none" stroke-linejoin="round"/>
<polyline points="1817.7,652.8 1891.7,676.2 1932.7,635.3" fill="none" stroke="#e3141c" stroke-width="1.2" stroke-linejoin="miter" />
<polyline points="1891.7,676.2 1891.7,816.5" fill="none" stroke="#e3141c" stroke-width="1.2" stroke-linejoin="miter" />
<polyline points="1817.7,793.0 1858.6,750.1 1932.7,777.5" fill="none" stroke="#e3141c" stroke-width="0.9" stroke-linejoin="miter" stroke-opacity="0.6"/>
<polyline points="1858.6,609.9 1858.6,750.1" fill="none" stroke="#e3141c" stroke-width="0.9" stroke-linejoin="miter" stroke-opacity="0.6"/>
<text x="346" y="296.7" font-size="34" font-weight="400" text-anchor="start" fill="#000" textLength="442" lengthAdjust="spacingAndGlyphs" stroke="#fefefe" stroke-width="0.41" >Reinforced concrete shear wall</text>
<line x1="816" y1="283" x2="1363" y2="283" stroke="#e8141b" stroke-width="2.2"/>
<circle cx="1363" cy="283.3" r="6.5" fill="#e8141b"/>
<text x="336" y="699.6" font-size="34" font-weight="400" text-anchor="start" fill="#000" textLength="626" lengthAdjust="spacingAndGlyphs" stroke="#fefefe" stroke-width="0.41" >Primary steel structure tied back to concrete</text>
<line x1="986" y1="689" x2="1241" y2="689" stroke="#e8141b" stroke-width="2.2"/>
<circle cx="1241" cy="689.5" r="6.5" fill="#e8141b"/>
<text x="335.5" y="864.3" font-size="34" font-weight="400" text-anchor="start" fill="#000" textLength="351" lengthAdjust="spacingAndGlyphs" stroke="#fefefe" stroke-width="0.41" >Secondary steel bracing</text>
<line x1="710" y1="853.8" x2="1289" y2="853.8" stroke="#e8141b" stroke-width="2.2"/>
<circle cx="1289" cy="853.8" r="6.5" fill="#e8141b"/>
<text x="343.1" y="1607.5" font-size="34" font-weight="400" text-anchor="start" fill="#000" textLength="423" lengthAdjust="spacingAndGlyphs" stroke="#fefefe" stroke-width="0.41" >40′ Reinforced concrete piles</text>
<line x1="794.7" y1="1592.2" x2="1378.4" y2="1592.2" stroke="#e8141b" stroke-width="2.2"/>
<circle cx="1378.4" cy="1592.2" r="6.5" fill="#e8141b"/>
<text x="2749.2" y="1013.9" font-size="34" font-weight="400" text-anchor="start" fill="#000" textLength="446" lengthAdjust="spacingAndGlyphs" stroke="#fefefe" stroke-width="0.41" >Reinforced concrete floor slabs</text>
<line x1="2294" y1="999.2" x2="2736" y2="999.2" stroke="#e8141b" stroke-width="2.2"/>
<circle cx="2294" cy="999.2" r="6.5" fill="#e8141b"/>
<text x="2750" y="1176.9" font-size="34" font-weight="400" text-anchor="start" fill="#000" textLength="204" lengthAdjust="spacingAndGlyphs" stroke="#fefefe" stroke-width="0.41" >Concrete core</text>
<line x1="2294" y1="1161.3" x2="2738.6" y2="1161.3" stroke="#e8141b" stroke-width="2.2"/>
<circle cx="2294" cy="1161.3" r="6.5" fill="#e8141b"/>
<text x="1076" y="527.7" font-size="29" font-weight="400" text-anchor="start" fill="#000" textLength="62" lengthAdjust="spacingAndGlyphs" >S 3.3</text>
<line x1="1150.8" y1="516.6" x2="1197" y2="516.6" stroke="#e8141b" stroke-width="2.2"/>
<text x="1075" y="937" font-size="29" font-weight="400" text-anchor="start" fill="#000" textLength="64" lengthAdjust="spacingAndGlyphs" >S 3.4</text>
<line x1="1152" y1="925.2" x2="1205.7" y2="925.2" stroke="#e8141b" stroke-width="2.2"/>
<text x="1626" y="210.4" font-size="29" font-weight="400" text-anchor="start" fill="#000" textLength="63.6" lengthAdjust="spacingAndGlyphs" >S 3.2</text>
<line x1="1642" y1="217" x2="1642" y2="349" stroke="#e8141b" stroke-width="2.2"/>
<text x="2025.3" y="400.8" font-size="29" font-weight="400" text-anchor="start" fill="#000" textLength="57" lengthAdjust="spacingAndGlyphs" >S 3.1</text>
<polyline points="2041.5,408 2041.5,706.2 1935,706.2" fill="none" stroke="#e8141b" stroke-width="2.2"/>
<rect x="87.5" y="58" width="3665.2" height="2372" stroke="#0a0a0a" stroke-width="2.3" fill="none"/>
<line x1="3321.2" y1="58" x2="3321.2" y2="2430" stroke="#0a0a0a" stroke-width="2.3" fill="none"/>
<rect x="3334.8" y="71.4" width="404.8" height="208.9" stroke="#0a0a0a" stroke-width="2.3" fill="none"/>
<rect x="3334.8" y="295.5" width="404.8" height="181.1" stroke="#0a0a0a" stroke-width="2.3" fill="none"/>
<line x1="3334.8" y1="327" x2="3739.6" y2="327" stroke="#0a0a0a" stroke-width="2.3" fill="none"/>
<rect x="3334.8" y="491.4" width="404.8" height="104.6" stroke="#0a0a0a" stroke-width="2.3" fill="none"/>
<line x1="3334.8" y1="520.8" x2="3739.6" y2="520.8" stroke="#0a0a0a" stroke-width="2.3" fill="none"/>
<rect x="3334.8" y="611.7" width="404.8" height="106.0" stroke="#0a0a0a" stroke-width="2.3" fill="none"/>
<line x1="3334.8" y1="642.9" x2="3739.6" y2="642.9" stroke="#0a0a0a" stroke-width="2.3" fill="none"/>
<rect x="3334.8" y="732.2" width="404.8" height="101.8" stroke="#0a0a0a" stroke-width="2.3" fill="none"/>
<rect x="3334.8" y="849.4" width="404.8" height="727.8" stroke="#0a0a0a" stroke-width="2.3" fill="none"/>
<rect x="3334.8" y="1592.1" width="404.8" height="404.4" stroke="#0a0a0a" stroke-width="2.3" fill="none"/>
<line x1="3334.8" y1="1624.1" x2="3739.6" y2="1624.1" stroke="#0a0a0a" stroke-width="2.3" fill="none"/>
<line x1="3334.8" y1="1735" x2="3739.6" y2="1735" stroke="#0a0a0a" stroke-width="2.3" fill="none"/>
<line x1="3334.8" y1="1766.7" x2="3739.6" y2="1766.7" stroke="#0a0a0a" stroke-width="2.3" fill="none"/>
<line x1="3334.8" y1="1797.7" x2="3739.6" y2="1797.7" stroke="#0a0a0a" stroke-width="2.3" fill="none"/>
<line x1="3407.6" y1="1766.7" x2="3407.6" y2="1996.5" stroke="#0a0a0a" stroke-width="2.3" fill="none"/>
<line x1="3643.2" y1="1766.7" x2="3643.2" y2="1996.5" stroke="#0a0a0a" stroke-width="2.3" fill="none"/>
<rect x="3334.8" y="2010.9" width="404.8" height="404.1" stroke="#0a0a0a" stroke-width="2.3" fill="none"/>
<line x1="3334.8" y1="2074" x2="3739.6" y2="2074" stroke="#0a0a0a" stroke-width="2.3" fill="none"/>
<line x1="3334.8" y1="2136.8" x2="3739.6" y2="2136.8" stroke="#0a0a0a" stroke-width="2.3" fill="none"/>
<line x1="3334.8" y1="2352.9" x2="3739.6" y2="2352.9" stroke="#0a0a0a" stroke-width="2.3" fill="none"/>
<g transform="translate(3400,80) scale(0.12665)" fill="#000"><path fill-rule="evenodd" d="M 750,125 Q 752,118 762,118 L 950,120 L 812,1110 Q 808,1130 790,1130 L 625,1130 L 632,1055 C 570,1115 495,1150 405,1150 C 245,1150 140,1030 140,860 C 140,640 300,465 490,465 C 575,465 635,495 690,535 Z M 669,805 C 669,896 590,970 490,970 C 400,970 345,905 345,815 C 345,720 420,642 525,642 C 610,642 669,705 669,805 Z"/><ellipse cx="1195" cy="278" rx="118" ry="114" transform="rotate(-35 1195 278)"/><path d="M 1065,485 L 1265,485 L 1170,1180 C 1140,1380 1060,1445 930,1447 L 815,1448 Q 795,1447 800,1430 L 830,1270 C 860,1278 895,1280 915,1265 C 950,1240 960,1200 970,1140 Z"/><path fill-rule="evenodd" d="M 1410,572 C 1500,505 1600,465 1700,465 C 1870,465 1965,540 1962,720 L 1912,1110 Q 1908,1130 1890,1130 L 1730,1130 L 1738,1058 C 1680,1115 1610,1150 1525,1150 C 1395,1150 1308,1075 1308,965 C 1308,800 1460,720 1780,715 C 1780,650 1740,602 1660,602 C 1590,602 1540,630 1498,678 Z M 1762,850 C 1745,950 1680,1015 1600,1015 C 1545,1015 1505,985 1505,945 C 1505,890 1580,848 1700,848 Z"/></g>
<text x="3340" y="320" font-size="23" font-weight="700" text-anchor="start" fill="#000" textLength="62" lengthAdjust="spacingAndGlyphs" >TEAM</text>
<text x="3341.4" y="357.4" font-size="19.5" font-weight="400" text-anchor="start" fill="#000" textLength="145" lengthAdjust="spacingAndGlyphs" stroke="#fefefe" stroke-width="0.55" >Ghanim Alghanim</text>
<text x="3543.6" y="357.4" font-size="19.5" font-weight="400" text-anchor="start" fill="#000" textLength="82" lengthAdjust="spacingAndGlyphs" stroke="#fefefe" stroke-width="0.55" >Peter Rosa</text>
<text x="3341.4" y="383.1" font-size="19.5" font-weight="400" text-anchor="start" fill="#000" textLength="168" lengthAdjust="spacingAndGlyphs" stroke="#fefefe" stroke-width="0.55" >Hamad Alramadhan</text>
<text x="3543.6" y="383.1" font-size="19.5" font-weight="400" text-anchor="start" fill="#000" textLength="149" lengthAdjust="spacingAndGlyphs" stroke="#fefefe" stroke-width="0.55" >Shaikha Ben Sabt</text>
<text x="3341.4" y="409.9" font-size="19.5" font-weight="400" text-anchor="start" fill="#000" textLength="127" lengthAdjust="spacingAndGlyphs" stroke="#fefefe" stroke-width="0.55" >Esly Hernandez</text>
<text x="3543.6" y="409.9" font-size="19.5" font-weight="400" text-anchor="start" fill="#000" textLength="150" lengthAdjust="spacingAndGlyphs" stroke="#fefefe" stroke-width="0.55" >Santiago Sanchez</text>
<text x="3341.4" y="435.8" font-size="19.5" font-weight="400" text-anchor="start" fill="#000" textLength="126" lengthAdjust="spacingAndGlyphs" stroke="#fefefe" stroke-width="0.55" >Nandini Parekh</text>
<text x="3543.6" y="435.8" font-size="19.5" font-weight="400" text-anchor="start" fill="#000" textLength="110" lengthAdjust="spacingAndGlyphs" stroke="#fefefe" stroke-width="0.55" >Modhi Tifouni</text>
<text x="3341.4" y="462.1" font-size="19.5" font-weight="400" text-anchor="start" fill="#000" textLength="126" lengthAdjust="spacingAndGlyphs" stroke="#fefefe" stroke-width="0.55" >Adam Rafeedie</text>
<text x="3543.6" y="462.1" font-size="19.5" font-weight="400" text-anchor="start" fill="#000" textLength="137" lengthAdjust="spacingAndGlyphs" stroke="#fefefe" stroke-width="0.55" >Francisco Valdez</text>
<text x="3340" y="516.6" font-size="23" font-weight="700" text-anchor="start" fill="#000" textLength="155" lengthAdjust="spacingAndGlyphs" >INSTRUCTORS</text>
<text x="3340.5" y="556.5" font-size="19.5" font-weight="400" text-anchor="start" fill="#000" textLength="100" lengthAdjust="spacingAndGlyphs" stroke="#fefefe" stroke-width="0.55" >Pavel Getov</text>
<text x="3340.5" y="582" font-size="19.5" font-weight="400" text-anchor="start" fill="#000" textLength="78" lengthAdjust="spacingAndGlyphs" stroke="#fefefe" stroke-width="0.55" >Scott Uriu</text>
<text x="3340" y="637.4" font-size="23" font-weight="700" text-anchor="start" fill="#000" textLength="165" lengthAdjust="spacingAndGlyphs" >CONSULTANTS</text>
<text x="3340.5" y="676.3" font-size="19.5" font-weight="400" text-anchor="start" fill="#000" textLength="159" lengthAdjust="spacingAndGlyphs" stroke="#fefefe" stroke-width="0.55" >ARUP: Jamey Lyzun</text>
<text x="3340.5" y="701.9" font-size="19.5" font-weight="400" text-anchor="start" fill="#000" textLength="199" lengthAdjust="spacingAndGlyphs" stroke="#fefefe" stroke-width="0.55" >Enclos: Sophie Pennetier</text>
<text x="3536.6" y="762.6" font-size="23" font-weight="700" text-anchor="middle" fill="#000" textLength="250" lengthAdjust="spacingAndGlyphs" >APPLIED STUDIES 3040</text>
<text x="3536.6" y="793.5" font-size="22" font-weight="400" text-anchor="middle" fill="#000" textLength="195" lengthAdjust="spacingAndGlyphs" stroke="#fefefe" stroke-width="0.26" >Design Development</text>
<text x="3536.6" y="822.8" font-size="22" font-weight="400" text-anchor="middle" fill="#000" textLength="174" lengthAdjust="spacingAndGlyphs" stroke="#fefefe" stroke-width="0.26" >Fall Semester 2021</text>
<g transform="translate(3541,1427) rotate(-90)"><text x="0" y="0" font-size="74" font-weight="700" text-anchor="start" fill="#000" textLength="429" lengthAdjust="spacingAndGlyphs" >MACROHaus</text></g>
<g transform="translate(3577,1413.7) rotate(-90)"><text x="0" y="0" font-size="27" font-weight="400" text-anchor="start" fill="#000" textLength="402" lengthAdjust="spacingAndGlyphs" stroke="#fefefe" stroke-width="0.32" >950 N Broadway, Los Angeles, CA 90012</text></g>
<text x="3340" y="1617" font-size="23" font-weight="700" text-anchor="start" fill="#000" textLength="80" lengthAdjust="spacingAndGlyphs" >NOTES</text>
<text x="3340.3" y="1759.8" font-size="23" font-weight="700" text-anchor="start" fill="#000" textLength="246" lengthAdjust="spacingAndGlyphs" >DRAWING REVISIONS</text>
<text x="3354.7" y="1789.7" font-size="17" font-weight="400" text-anchor="start" fill="#000" textLength="33" lengthAdjust="spacingAndGlyphs" stroke="#fefefe" stroke-width="0.20" >NO.</text>
<text x="3413.3" y="1789.7" font-size="17" font-weight="400" text-anchor="start" fill="#000" textLength="107" lengthAdjust="spacingAndGlyphs" stroke="#fefefe" stroke-width="0.20" >DESCRIPTION</text>
<text x="3649" y="1789.7" font-size="17" font-weight="400" text-anchor="start" fill="#000" textLength="39" lengthAdjust="spacingAndGlyphs" stroke="#fefefe" stroke-width="0.20" >DATE</text>
<text x="3370.2" y="1825.9" font-size="18" font-weight="400" text-anchor="middle" fill="#000" stroke="#fefefe" stroke-width="0.22" >1</text>
<text x="3370.2" y="1848.3" font-size="18" font-weight="400" text-anchor="middle" fill="#000" stroke="#fefefe" stroke-width="0.22" >2</text>
<text x="3370.2" y="1871.3" font-size="18" font-weight="400" text-anchor="middle" fill="#000" stroke="#fefefe" stroke-width="0.22" >3</text>
<text x="3370.2" y="1893.7" font-size="18" font-weight="400" text-anchor="middle" fill="#000" stroke="#fefefe" stroke-width="0.22" >4</text>
<text x="3370.2" y="1916.1" font-size="18" font-weight="400" text-anchor="middle" fill="#000" stroke="#fefefe" stroke-width="0.22" >5</text>
<text x="3370.2" y="1938.5" font-size="18" font-weight="400" text-anchor="middle" fill="#000" stroke="#fefefe" stroke-width="0.22" >6</text>
<text x="3370.2" y="1961.5" font-size="18" font-weight="400" text-anchor="middle" fill="#000" stroke="#fefefe" stroke-width="0.22" >7</text>
<text x="3370.2" y="1983.9" font-size="18" font-weight="400" text-anchor="middle" fill="#000" stroke="#fefefe" stroke-width="0.22" >8</text>
<text x="3344.4" y="2120" font-size="37" font-weight="400" text-anchor="start" fill="#000" textLength="224" lengthAdjust="spacingAndGlyphs" stroke="#fefefe" stroke-width="1.00" >Structural Chunk</text>
<text x="3344.4" y="2398.9" font-size="37" font-weight="400" text-anchor="start" fill="#000" textLength="75" lengthAdjust="spacingAndGlyphs" stroke="#fefefe" stroke-width="0.90" >S 2.0</text>
</svg>
</body></html>
